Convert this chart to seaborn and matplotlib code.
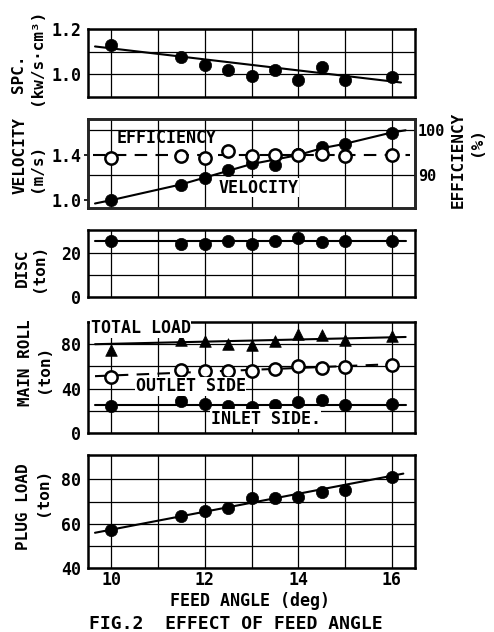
import matplotlib
matplotlib.use("Agg")
import matplotlib.pyplot as plt
import pandas as pd
import seaborn as sns

sns.set_theme(style="white")
plt.rcParams["font.family"] = ["DejaVu Sans Mono", "DejaVu Sans"]
plt.rcParams["font.weight"] = "bold"
plt.rcParams["text.color"] = "black"
plt.rcParams["xtick.color"] = "black"
plt.rcParams["ytick.color"] = "black"

# ---- data ----
feed_angle = [10, 11.5, 12, 12.5, 13, 13.5, 14, 14.5, 15, 16]

spc = [1.13, 1.075, 1.043, 1.02, 0.993, 1.02, 0.975, 1.032, 0.974, 0.99]
spc_fit_x = [9.65, 16.2]
spc_fit_y = [1.123, 0.964]

velocity = [1.0, 1.13, 1.20, 1.27, 1.33, 1.31, 1.41, 1.47, 1.50, 1.60]
velocity_fit_x = [9.65, 10, 11.5, 12, 12.5, 13, 14, 14.5, 15, 16, 16.3]
velocity_fit_y = [0.97, 1.0, 1.14, 1.20, 1.26, 1.32, 1.40, 1.46, 1.50, 1.60, 1.62]

efficiency = [93.8, 94.3, 93.7, 95.4, 94.1, 94.4, 94.4, 94.6, 94.1, 94.4]
efficiency_fit_x = [9.6, 16.4]
efficiency_fit_y = [94.4, 94.4]

disc = [25.5, 24.0, 24.0, 25.5, 24.0, 25.7, 26.8, 25.0, 25.5, 25.5]
disc_fit_x = [9.65, 16.3]
disc_fit_y = [25.5, 25.5]

total_load = [75, 84, 83, 80.6, 79.7, 83, 89.6, 88.7, 83.6, 87.2]
total_fit_x = [9.65, 16.3]
total_fit_y = [80, 86.5]

outlet_side = [50.6, 56.6, 56.0, 55.7, 55.7, 57.5, 60.2, 59.0, 59.6, 61.7]
outlet_fit_x = [9.65, 16.3]
outlet_fit_y = [51.2, 62.5]

inlet_side = [24.3, 28.8, 26.0, 24.3, 23.7, 24.9, 27.6, 29.7, 25.2, 25.8]
inlet_fit_x = [9.65, 16.3]
inlet_fit_y = [25.6, 25.6]

plug_load = [57.1, 63.4, 65.8, 67.1, 71.6, 71.6, 72.0, 74.3, 75.4, 81.0]
plug_fit_x = [9.65, 16.25]
plug_fit_y = [55.9, 82.6]

x_grid = [10, 11, 12, 13, 14, 15, 16]
x_ticklabels = ["10", "", "12", "", "14", "", "16"]

W, H = 494, 632
fig = plt.figure(figsize=(W / 100, H / 100), dpi=100)


def px_rect(top, bottom, left=88, right=415):
    return [left / W, 1 - bottom / H, (right - left) / W, (bottom - top) / H]


def style_axes(ax, ylim, yticks, ylabels, bottom=False):
    ax.set_xlim(9.5, 16.5)
    ax.set_ylim(*ylim)
    ax.set_xticks(x_grid)
    ax.set_xticklabels(x_ticklabels if bottom else [""] * len(x_grid))
    ax.set_yticks(yticks)
    ax.set_yticklabels(ylabels)
    ax.grid(True, color="black", linewidth=0.9)
    ax.set_axisbelow(True)
    for s in ax.spines.values():
        s.set_color("black")
        s.set_linewidth(1.8)
    ax.tick_params(axis="y", length=3, width=1.2, pad=2, labelsize=12, colors="black")
    ax.tick_params(axis="x", length=0, pad=2, labelsize=12, colors="black")
    ax.set_xlabel("")
    ax.set_ylabel("")


def dots(ax, x, y, marker="o", filled=True, s=78):
    df = pd.DataFrame({"x": x, "y": y})
    sns.scatterplot(data=df, x="x", y="y", ax=ax, marker=marker, s=s,
                    color="black" if filled else "white",
                    edgecolor="black", linewidth=1.8 if not filled else 0.5,
                    zorder=5, legend=False)


def line(ax, x, y, dashed=False):
    df = pd.DataFrame({"x": x, "y": y})
    sns.lineplot(data=df, x="x", y="y", ax=ax, color="black", linewidth=1.5,
                 linestyle=(0, (6, 4)) if dashed else "-", zorder=4,
                 estimator=None, sort=False)


def ylabel(x, y, text, size=11.5):
    fig.text(x / W, 1 - y / H, text, rotation=90, ha="center", va="center",
             fontsize=size, fontweight="bold")


box = dict(facecolor="white", edgecolor="none", pad=0.5)

# 1. SPC
ax1 = fig.add_axes(px_rect(29, 97))
line(ax1, spc_fit_x, spc_fit_y)
dots(ax1, feed_angle, spc)
style_axes(ax1, (0.9, 1.2), [1.0, 1.1, 1.2], ["1.0", "", "1.2"])
ylabel(18, 74, "SPC.")
ylabel(36, 57, "(kw/s·cm³)")

# 2. velocity / efficiency
ax2 = fig.add_axes(px_rect(119, 208))
line(ax2, velocity_fit_x, velocity_fit_y)
dots(ax2, feed_angle, velocity)
style_axes(ax2, (0.93, 1.72), [1.0, 1.4], ["1.0", "1.4"])
ax2.grid(False, axis="y")
ax2b = ax2.twinx()
line(ax2b, efficiency_fit_x, efficiency_fit_y, dashed=True)
dots(ax2b, feed_angle, efficiency, filled=False)
ax2b.set_ylim(82.7, 102.4)
ax2b.set_yticks([90, 100])
ax2b.set_yticklabels(["90", "100"])
ax2b.grid(True, axis="y", color="black", linewidth=0.9)
ax2b.set_ylabel("")
ax2b.tick_params(axis="y", length=0, pad=2, labelsize=11, colors="black")
for s in ax2b.spines.values():
    s.set_linewidth(1.8)
ax2.text(10.12, 1.55, "EFFICIENCY", fontsize=12, fontweight="bold", va="center", ha="left")
ax2.text(13.15, 1.11, "VELOCITY", fontsize=12, fontweight="bold", va="center", ha="center",
         bbox=box, zorder=6)
ylabel(20, 155, "VELOCITY")
ylabel(36, 168, "(m/s)")
ylabel(458, 160, "EFFICIENCY")
ylabel(476, 142, "(%)")

# 3. disc
ax3 = fig.add_axes(px_rect(230, 297))
line(ax3, disc_fit_x, disc_fit_y)
dots(ax3, feed_angle, disc)
style_axes(ax3, (0, 30.5), [0, 10, 20], ["0", "", "20"])
ylabel(22, 268, "DISC")
ylabel(38, 268, "(ton)")

# 4. main roll
ax4 = fig.add_axes(px_rect(322, 433))
line(ax4, total_fit_x, total_fit_y)
line(ax4, outlet_fit_x, outlet_fit_y, dashed=True)
line(ax4, inlet_fit_x, inlet_fit_y)
dots(ax4, feed_angle, total_load, marker="^", s=70)
dots(ax4, feed_angle, outlet_side, filled=False)
dots(ax4, feed_angle, inlet_side)
style_axes(ax4, (0, 100), [0, 20, 40, 60, 80], ["0", "", "40", "", "80"])
ax4.text(9.56, 94.5, "TOTAL LOAD", fontsize=12, fontweight="bold", va="center", ha="left",
         bbox=box, zorder=6)
ax4.text(11.7, 42, "OUTLET SIDE", fontsize=12, fontweight="bold", va="center", ha="center",
         bbox=box, zorder=6)
ax4.text(13.3, 12.5, "INLET SIDE.", fontsize=12, fontweight="bold", va="center", ha="center",
         bbox=box, zorder=6)
ylabel(25, 363, "MAIN ROLL")
ylabel(43, 369, "(ton)")

# 5. plug load
ax5 = fig.add_axes(px_rect(455, 568))
line(ax5, plug_fit_x, plug_fit_y)
dots(ax5, feed_angle, plug_load)
style_axes(ax5, (40, 91), [40, 50, 60, 70, 80], ["40", "", "60", "", "80"], bottom=True)
ylabel(24, 507, "PLUG LOAD")
ylabel(42, 492, "(ton)")

fig.text(250 / W, 1 - 601 / H, "FEED ANGLE (deg)", ha="center", va="center",
         fontsize=12, fontweight="bold")
fig.text(236 / W, 1 - 624 / H, "FIG.2  EFFECT OF FEED ANGLE", ha="center", va="center",
         fontsize=13, fontweight="bold")

fig.savefig("out.png", dpi=100)
